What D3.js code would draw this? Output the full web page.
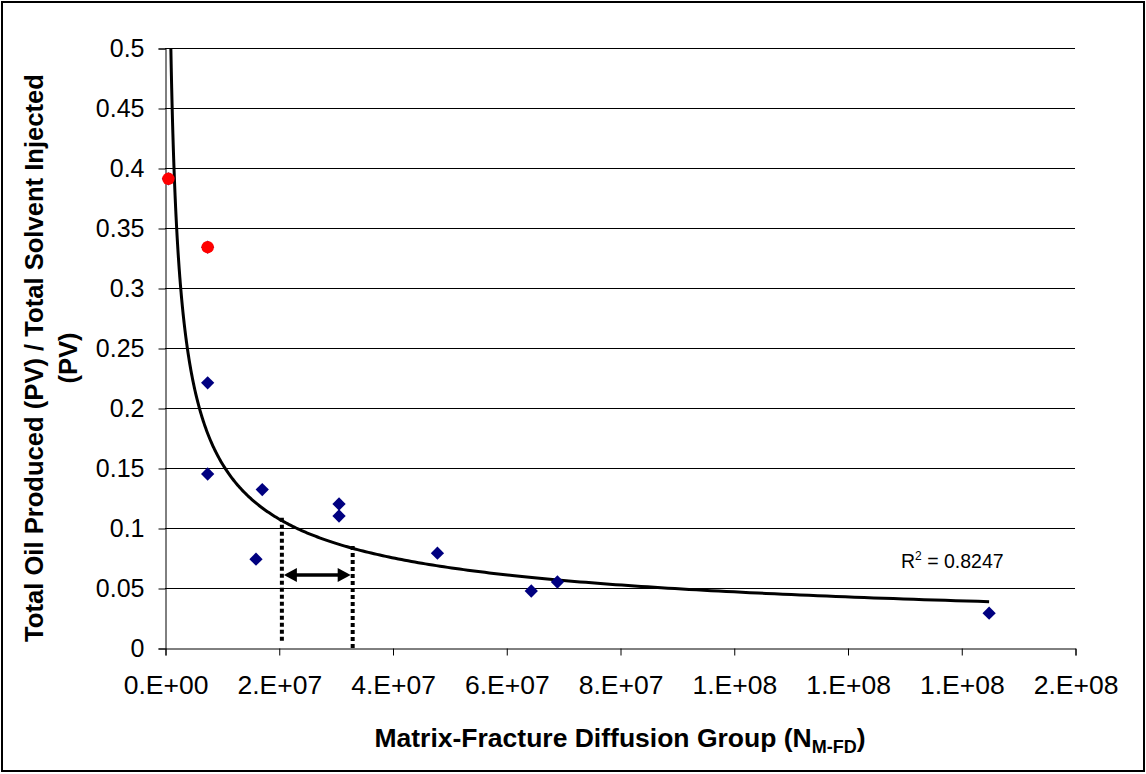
<!DOCTYPE html>
<html>
<head>
<meta charset="utf-8">
<script src="https://cdn.jsdelivr.net/npm/d3@7"></script>
<style>
  html, body { margin: 0; padding: 0; background: #fff; }
  svg { display: block; font-family: "Liberation Sans", Arial, sans-serif; }
</style>
</head>
<body>
<svg id="chart" width="1146" height="774"></svg>
<script>
// Matrix-fracture diffusion group vs. oil produced per solvent injected
const blueX = [7.5e6, 7.5e6, 1.60e7, 1.71e7, 3.06e7, 3.06e7, 4.79e7, 6.44e7, 6.90e7, 1.449e8];
const blueY = [0.221, 0.145, 0.074, 0.132, 0.120, 0.110, 0.079, 0.0475, 0.055, 0.029];
const redX  = [6.0e5, 7.5e6];
const redY  = [0.391, 0.334];

// Power trendline y = a * x^b and its fit statistic
const trendA = 646;
const trendB = -0.5175;
const trendRange = [6.0e5, 1.449e8];
const rSquared = "0.8247";

// Axis ticks
const xTicks = [0, 2e7, 4e7, 6e7, 8e7, 1e8, 1.2e8, 1.4e8, 1.6e8];
const xTickLabels = ["0.E+00", "2.E+07", "4.E+07", "6.E+07", "8.E+07", "1.E+08", "1.E+08", "1.E+08", "2.E+08"];
const yTicks = [0, 0.05, 0.1, 0.15, 0.2, 0.25, 0.3, 0.35, 0.4, 0.45, 0.5];
const yTickLabels = ["0", "0.05", "0.1", "0.15", "0.2", "0.25", "0.3", "0.35", "0.4", "0.45", "0.5"];

// Range annotation: two dotted markers and a double arrow between them
const markerX = [2.055e7, 3.30e7];
const markerTop = [0.1095, 0.087];
const markerBottom = [0.006, 0];
const arrowY = 0.0608;

const svg = d3.select("#chart");
const plotL = 165, plotR = 1075, plotT = 48, plotB = 648;

const x = d3.scaleLinear().domain([0, 1.6e8]).range([plotL, plotR]);
const y = d3.scaleLinear().domain([0, 0.5]).range([plotB, plotT]);

// outer frame
svg.append("rect")
  .attr("x", 2).attr("y", 2).attr("width", 1142).attr("height", 769)
  .attr("fill", "#fff").attr("stroke", "#000").attr("stroke-width", 2);

// horizontal gridlines
svg.append("g").selectAll("line").data(yTicks.filter(d => d > 0)).join("line")
  .attr("x1", plotL).attr("x2", plotR)
  .attr("y1", d => Math.round(y(d)) + 0.5).attr("y2", d => Math.round(y(d)) + 0.5)
  .attr("stroke", "#000").attr("stroke-width", 1);

// y axis
const yAxis = svg.append("g")
  .attr("transform", `translate(${plotL + 0.5},0.5)`)
  .call(d3.axisLeft(y).tickValues(yTicks).tickSize(7).tickPadding(14)
    .tickFormat((d, i) => yTickLabels[i]));
yAxis.select(".domain").attr("stroke", "#000");
yAxis.selectAll(".tick line").attr("stroke", "#000");
yAxis.selectAll(".tick text")
  .attr("font-size", 25).attr("fill", "#000")
  .attr("font-family", "Liberation Sans, Arial, sans-serif");

// x axis
const xAxis = svg.append("g")
  .attr("transform", `translate(0.5,${plotB + 0.5})`)
  .call(d3.axisBottom(x).tickValues(xTicks).tickSize(7).tickPadding(20)
    .tickFormat((d, i) => xTickLabels[i]));
xAxis.select(".domain").attr("stroke", "#000");
xAxis.selectAll(".tick line").attr("stroke", "#000");
xAxis.selectAll(".tick text")
  .attr("font-size", 26.5).attr("fill", "#000")
  .attr("font-family", "Liberation Sans, Arial, sans-serif");

// clip region for the trendline
svg.append("clipPath").attr("id", "plot-clip")
  .append("rect").attr("x", plotL).attr("y", plotT).attr("width", plotR - plotL).attr("height", plotB - plotT);

// power trendline, sampled evenly in log space
const n = 400;
const l0 = Math.log(trendRange[0]), l1 = Math.log(trendRange[1]);
const trendPts = d3.range(n + 1).map(i => {
  const xv = Math.exp(l0 + (l1 - l0) * i / n);
  return [xv, trendA * Math.pow(xv, trendB)];
});
svg.append("path")
  .attr("clip-path", "url(#plot-clip)")
  .attr("d", d3.line().x(d => x(d[0])).y(d => y(d[1]))(trendPts))
  .attr("fill", "none").attr("stroke", "#000").attr("stroke-width", 3);

// dotted range markers
svg.append("g").selectAll("line").data(markerX).join("line")
  .attr("x1", d => x(d)).attr("x2", d => x(d))
  .attr("y1", (d, i) => y(markerBottom[i])).attr("y2", (d, i) => y(markerTop[i]))
  .attr("stroke", "#000").attr("stroke-width", 4).attr("stroke-dasharray", "4,3");

// double-headed arrow
const ax0 = x(markerX[0]) + 2, ax1 = x(markerX[1]) - 2, ay = y(arrowY);
const headL = 13, headH = 7;
svg.append("line")
  .attr("x1", ax0 + headL - 2).attr("x2", ax1 - headL + 2)
  .attr("y1", ay).attr("y2", ay)
  .attr("stroke", "#000").attr("stroke-width", 3.5);
svg.append("path")
  .attr("d", `M${ax0},${ay} L${ax0 + headL},${ay - headH} L${ax0 + headL},${ay + headH} Z`)
  .attr("fill", "#000");
svg.append("path")
  .attr("d", `M${ax1},${ay} L${ax1 - headL},${ay - headH} L${ax1 - headL},${ay + headH} Z`)
  .attr("fill", "#000");

// markers
const diamond = d3.symbol().type(d3.symbolSquare).size(88);
const blue = blueX.map((v, i) => [v, blueY[i]]);
const red = redX.map((v, i) => [v, redY[i]]);

svg.append("g").selectAll("path").data(blue.concat(red)).join("path")
  .attr("d", diamond)
  .attr("transform", d => `translate(${x(d[0])},${y(d[1])}) rotate(45)`)
  .attr("fill", "#000080");

svg.append("g").selectAll("circle").data(red).join("circle")
  .attr("cx", d => x(d[0])).attr("cy", d => y(d[1])).attr("r", 6.2)
  .attr("fill", "#ff0000");

// R-squared label
const r2 = svg.append("text")
  .attr("x", 901).attr("y", 568)
  .attr("font-size", 19.5).attr("fill", "#000");
r2.append("tspan").text("R");
r2.append("tspan").attr("font-size", 12).attr("dy", -8).text("2");
r2.append("tspan").attr("dy", 8).text(" = " + rSquared);

// x axis title
const xt = svg.append("text")
  .attr("x", (plotL + plotR) / 2).attr("y", 747)
  .attr("text-anchor", "middle")
  .attr("font-size", 26.5).attr("font-weight", "bold").attr("fill", "#000");
xt.append("tspan").text("Matrix-Fracture Diffusion Group (N");
xt.append("tspan").attr("font-size", 18).attr("dy", 6).text("M-FD");
xt.append("tspan").attr("dy", -6).text(")");

// y axis title (two lines)
const yt = svg.append("text")
  .attr("transform", "translate(43,358) rotate(-90)")
  .attr("text-anchor", "middle")
  .attr("font-size", 25.6).attr("font-weight", "bold").attr("fill", "#000");
yt.append("tspan").attr("x", 0).attr("y", 0).text("Total Oil Produced (PV) / Total Solvent Injected");
yt.append("tspan").attr("x", 0).attr("y", 34).text("(PV)");
</script>
</body>
</html>
